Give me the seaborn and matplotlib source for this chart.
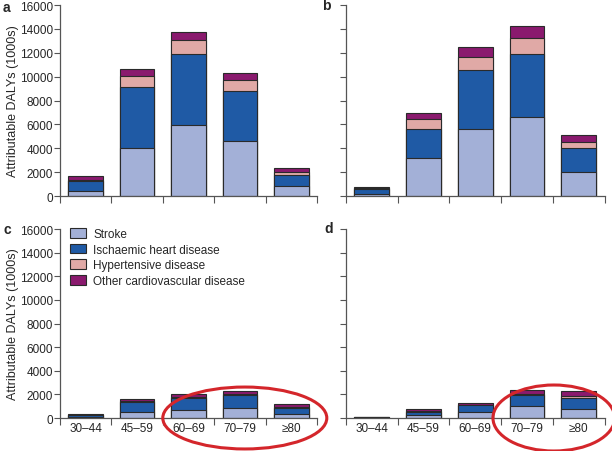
import numpy as np
import pandas as pd
import matplotlib
matplotlib.use("Agg")
import matplotlib.pyplot as plt
from matplotlib.patches import Ellipse, Patch
import seaborn as sns

# Data (1000s of DALYs), segment values per cause
age_groups = ["30\u201344", "45\u201359", "60\u201369", "70\u201379", "\u226580"]
causes = ["Stroke", "Ischaemic heart disease", "Hypertensive disease", "Other cardiovascular disease"]
colors = ["#a3b0d7", "#1f5aa5", "#e0a9a6", "#8a1a6e"]

a_stroke = [420, 4000, 5950, 4630, 810]
a_ihd = [840, 5160, 5990, 4160, 930]
a_hyp = [90, 870, 1120, 930, 280]
a_other = [330, 620, 700, 590, 310]

b_stroke = [200, 3150, 5650, 6660, 1990]
b_ihd = [400, 2470, 4940, 5250, 2000]
b_hyp = [80, 810, 1100, 1290, 560]
b_other = [100, 560, 780, 1010, 560]

c_stroke = [80, 480, 700, 850, 340]
c_ihd = [180, 900, 990, 1070, 510]
c_hyp = [20, 80, 110, 110, 80]
c_other = [60, 140, 200, 280, 220]

d_stroke = [30, 250, 540, 1040, 790]
d_ihd = [50, 290, 530, 930, 900]
d_hyp = [10, 50, 60, 90, 200]
d_other = [20, 140, 170, 330, 420]

panels = {
    "a": [a_stroke, a_ihd, a_hyp, a_other],
    "b": [b_stroke, b_ihd, b_hyp, b_other],
    "c": [c_stroke, c_ihd, c_hyp, c_other],
    "d": [d_stroke, d_ihd, d_hyp, d_other],
}

sns.set_style("ticks")
plt.rcParams["font.family"] = ["Liberation Sans", "DejaVu Sans"]

W, H = 612, 452
fig = plt.figure(figsize=(W / 100, H / 100), dpi=100)
positions = {
    "a": [0.098, 0.564, 0.420, 0.4226],
    "b": [0.565, 0.564, 0.423, 0.4226],
    "c": [0.098, 0.073, 0.420, 0.418],
    "d": [0.565, 0.073, 0.423, 0.418],
}
letter_pos = {"a": (3, 8), "b": (322, 6), "c": (3, 230), "d": (324, 229)}

for key, segs in panels.items():
    ax = fig.add_axes(positions[key])
    cum = np.cumsum(np.array(segs), axis=0)
    # draw cumulative totals from the top segment down so each overlays the previous
    for i in range(3, -1, -1):
        df = pd.DataFrame({"age": age_groups, "val": cum[i]})
        sns.barplot(data=df, x="age", y="val", color=colors[i], width=0.67,
                    edgecolor="#2a2a2a", linewidth=0.8, saturation=1, ax=ax)
    ax.set_xlim(-0.5, 4.5)
    ax.set_ylim(0, 16000)
    ax.set_yticks(np.arange(0, 16001, 2000))
    sns.despine(ax=ax)
    for s in ["left", "bottom"]:
        ax.spines[s].set_color("#555555")
        ax.spines[s].set_linewidth(0.9)
    ax.tick_params(axis="y", length=4, width=0.8, color="#555555", labelsize=8.5, pad=1)
    ax.set_xticks(np.arange(5))
    ax.set_xticks(np.arange(-0.5, 5, 1), minor=True)
    ax.tick_params(axis="x", which="major", length=0, labelsize=8.5, pad=3)
    ax.tick_params(axis="x", which="minor", length=5, width=0.8, color="#555555")
    ax.set_xlabel("")
    if key in ("a", "c"):
        ax.set_ylabel("Attributable DALYs (1000s)", fontsize=9, labelpad=1)
    else:
        ax.set_ylabel("")
        ax.set_yticklabels([])
    if key in ("a", "b"):
        ax.set_xticklabels([])
    lx, ly = letter_pos[key]
    fig.text(lx / W, 1 - ly / H, key, fontsize=10, fontweight="bold",
             va="center", ha="left")
    if key == "c":
        handles = [Patch(facecolor=colors[i], edgecolor="#2a2a2a", linewidth=0.8,
                         label=causes[i]) for i in range(4)]
        ax.legend(handles=handles, loc="upper left", bbox_to_anchor=(0.02, 1.03),
                  frameon=False, fontsize=8.5, handlelength=1.4, handleheight=0.9,
                  labelspacing=0.3, handletextpad=0.6, borderaxespad=0)

# red highlight ellipses
for cx, cy, w, h in [(0.400, 0.073, 0.268, 0.137), (0.905, 0.073, 0.199, 0.146)]:
    fig.patches.append(Ellipse((cx, cy), w, h, transform=fig.transFigure,
                               fill=False, edgecolor="#d4262b", linewidth=2.2,
                               clip_on=False, zorder=10))

fig.savefig("out.png", dpi=100)
